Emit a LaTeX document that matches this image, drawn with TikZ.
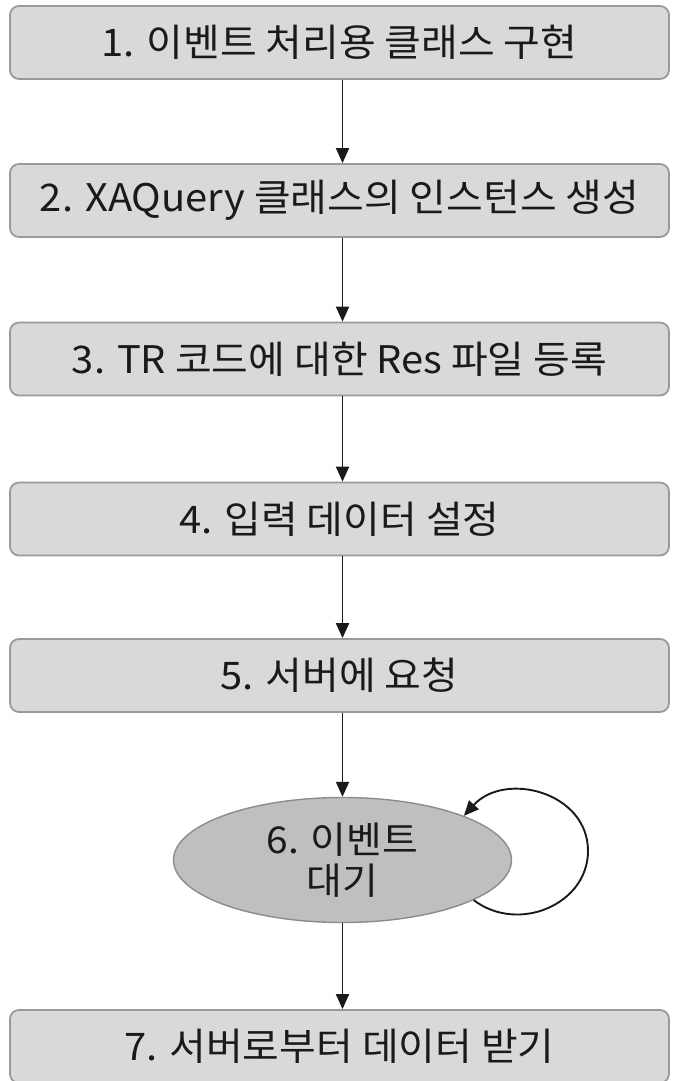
\documentclass[tikz,border=0pt]{standalone}
\usepackage{fontspec}
\setmainfont[FakeStretch=1.05]{Noto Sans CJK KR}
\usetikzlibrary{arrows.meta,shapes.geometric}
\definecolor{boxfill}{HTML}{D9D9D9}
\definecolor{boxline}{HTML}{9A9A9A}
\definecolor{ellfill}{HTML}{BFBFBF}
\definecolor{ellline}{HTML}{8C8C8C}
\definecolor{txt}{HTML}{1A1A1A}
\definecolor{arrcol}{HTML}{1A1A1A}
\begin{document}
\begin{tikzpicture}[x=1pt,y=-1pt,
  stepbox/.style={draw=boxline, fill=boxfill, line width=1.8pt, rounded corners=9pt,
    minimum width=659pt, minimum height=73pt, inner sep=0pt, text=txt,
    font=\fontsize{38}{44}\selectfont},
  waitell/.style={ellipse, draw=ellline, fill=ellfill, line width=1.4pt,
    minimum width=338pt, minimum height=125pt, inner sep=0pt, text=txt, align=center,
    font=\fontsize{37}{41}\selectfont},
  arr/.style={draw=arrcol, line width=1.9pt, -{Triangle[length=15pt,width=13pt]}}
]
\useasboundingbox (0,0) rectangle (672,1081);
\node[stepbox] (b1) at (339.5,42.5) {1. 이벤트 처리용 클래스 구현};
\node[stepbox] (b2) at (339.5,200.5) {2. XAQuery 클래스의 인스턴스 생성};
\node[stepbox] (b3) at (339.5,359) {3. TR 코드에 대한 Res 파일 등록};
\node[stepbox] (b4) at (339.5,519) {4. 입력 데이터 설정};
\node[stepbox] (b5) at (339.5,675.5) {5. 서버에 요청};
\node[waitell] (e) at (342.5,860) {6. 이벤트\\대기};
\node[stepbox] (b7) at (339.5,1046.5) {7. 서버로부터 데이터 받기};
\coordinate (lr) at (588,851);
\draw[arr] (b1.south -| e.north) -- (b2.north -| e.north);
\draw[arr] (b2.south -| e.north) -- (b3.north -| e.north);
\draw[arr] (b3.south -| e.north) -- (b4.north -| e.north);
\draw[arr] (b4.south -| e.north) -- (b5.north -| e.north);
\draw[arr] (b5.south -| e.north) -- (e.north);
\draw[arr] (e.south) -- (b7.north -| e.south);
\draw[arr] (e.-17) .. controls +(45,34) and +(0,53) .. (lr) .. controls +(0,-59) and +(41,-45) .. (e.20);
\end{tikzpicture}
\end{document}
